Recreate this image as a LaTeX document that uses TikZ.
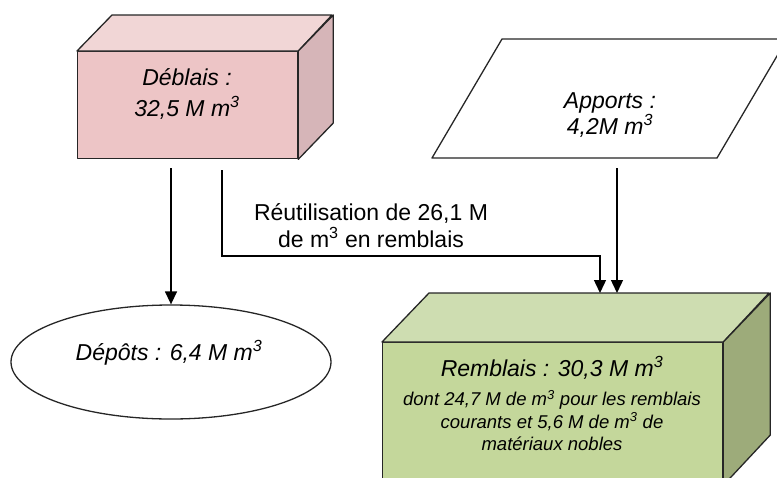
\documentclass[tikz,border=0pt]{standalone}
\usepackage{fontspec}
\setmainfont{Liberation Sans}
\usetikzlibrary{arrows.meta,shapes.geometric}
\definecolor{pinkfront}{HTML}{EDC5C6}
\definecolor{pinktop}{HTML}{F1D6D6}
\definecolor{pinkside}{HTML}{D6B5B8}
\definecolor{greenfront}{HTML}{C4D79B}
\definecolor{greentop}{HTML}{CEDDB1}
\definecolor{greenside}{HTML}{9DAB7A}
\definecolor{edgecol}{HTML}{262626}
\begin{document}
\begin{tikzpicture}[x=1pt,y=-1pt,
  face/.style={draw=edgecol, line width=1.3pt, line join=round},
  frontbox/.style={face, inner sep=0pt, anchor=north west},
  conn/.style={draw=black, line width=1.4pt, -{Triangle[width=12pt,length=13pt]}},
  bigtext/.style={font=\fontsize{23}{27}\selectfont\itshape, align=center, inner sep=0pt},
  smalltext/.style={font=\fontsize{18.5}{22.5}\selectfont\itshape, align=center, inner sep=0pt},
  labeltext/.style={font=\fontsize{23}{27}\selectfont, align=center, inner sep=0pt}]
\useasboundingbox (0,0) rectangle (777,477);
\clip (0,0) rectangle (777,477);

% Deblais box
\node[frontbox, fill=pinkfront, minimum width=220pt, minimum height=107pt] (debf) at (77,51) {};
\draw[face, fill=pinktop] (debf.north west) -- ++(35,-36) -- ++(220,0) -- (debf.north east) -- cycle;
\draw[face, fill=pinkside] (debf.north east) -- ++(35,-36) -- ++(0,108) -- (debf.south east) -- cycle;
\node[bigtext, font=\fontsize{23}{32}\selectfont\itshape] (deblais) at (187,94) {Déblais :\\32,5 M m\textsuperscript{3}};

% Apports parallelogram
\draw[face, fill=white] (432,158) -- (502,39) -- (787,39) -- (717,158) -- cycle;
\node[bigtext, font=\fontsize{23}{26}\selectfont\itshape] (apports) at (610,115) {Apports :\\4,2M m\textsuperscript{3}};

% Depots ellipse
\node[draw=edgecol, line width=1.3pt, ellipse, minimum width=320pt, minimum height=114pt, inner sep=0pt] (depots) at (171,362) {};
\node[bigtext] (depotstext) at (169,353) {Dépôts : 6,4 M m\textsuperscript{3}};

% Remblais box
\node[frontbox, fill=greenfront, minimum width=340pt, minimum height=142pt] (remf) at (382,342) {};
\draw[face, fill=greentop] (remf.north west) -- ++(47,-49) -- ++(340,0) -- (remf.north east) -- cycle;
\draw[face, fill=greenside] (remf.north east) -- ++(47,-49) -- ++(0,142) -- (remf.south east) -- cycle;
\node[bigtext] (rembtitle) at (552,368) {Remblais : 30,3 M m\textsuperscript{3}};
\node[smalltext] (rembsub) at (552,420.5) {dont 24,7 M de m\textsuperscript{3} pour les remblais\\courants et 5,6 M de m\textsuperscript{3} de\\matériaux nobles};

% Label
\node[labeltext] (reuse) at (371,225.5) {Réutilisation de 26,1 M\\de m\textsuperscript{3} en remblais};

% Connectors
\coordinate (d1) at (171,168);
\coordinate (d2) at (222,170);
\coordinate (a1) at (617,168);
\coordinate (bend) at (600,256);
\coordinate (r1) at (600,293);
\coordinate (r2) at (617,293);
\draw[conn] (d1) -- (depots.north);
\draw[conn] (d2) |- (bend) -- (r1);
\draw[conn] (a1) -- (r2);
\end{tikzpicture}
\end{document}
